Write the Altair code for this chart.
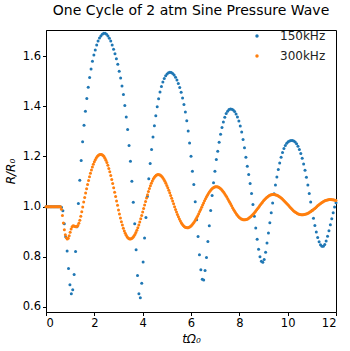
import altair as alt
import pandas as pd

series_names = ["150kHz", "300kHz"]
series_colors = ["#1f77b4", "#ff7f0e"]

x_ticks = [0, 2, 4, 6, 8, 10, 12]
y_ticks = [0.6, 0.8, 1.0, 1.2, 1.4, 1.6]

# time step of each series (uniform sampling in t*Omega0)
blue_dt = 12 / 206
orange_dt = 0.04

# R/R0 for 150 kHz
blue_R = [
    1.000, 1.000, 1.000, 1.000, 1.000, 1.000, 1.000, 1.000, 1.000, 1.000, 1.000, 0.998,
    0.984, 0.932, 0.880, 0.823, 0.753, 0.689, 0.653, 0.669, 0.729, 0.821,
    0.920, 1.012, 1.105, 1.184, 1.259, 1.324, 1.380, 1.431, 1.476, 1.515,
    1.549, 1.579, 1.604, 1.624, 1.644, 1.660, 1.672, 1.680, 1.687, 1.691,
    1.691, 1.687, 1.680, 1.671, 1.660, 1.644, 1.627, 1.609, 1.589, 1.567,
    1.540, 1.513, 1.481, 1.447, 1.403, 1.357, 1.307, 1.244, 1.181, 1.101,
    1.017, 0.932, 0.828, 0.725, 0.653, 0.637, 0.695, 0.779, 0.875, 0.957,
    1.040, 1.111, 1.172,
    1.228, 1.278, 1.322, 1.362, 1.398, 1.430, 1.457, 1.479, 1.497, 1.511,
    1.522, 1.529, 1.534, 1.536, 1.535, 1.531, 1.525, 1.516, 1.505, 1.491,
    1.475, 1.456, 1.433, 1.407, 1.377, 1.342, 1.301, 1.254, 1.201,
    1.141, 1.088, 1.019, 0.948, 0.881, 0.808, 0.748, 0.711, 0.708, 0.745,
    0.797, 0.861, 0.924, 0.985, 1.044, 1.095, 1.141, 1.188, 1.221,
    1.257, 1.288, 1.315, 1.337, 1.356, 1.371, 1.380, 1.387, 1.389, 1.388,
    1.385, 1.379, 1.369, 1.357, 1.341, 1.321, 1.297, 1.268, 1.235, 1.197,
    1.161,
    1.128, 1.092, 1.052, 1.008, 0.962, 0.915, 0.870, 0.830, 0.800, 0.782,
    0.778, 0.789, 0.818, 0.855, 0.895, 0.936, 0.976, 1.014, 1.051, 1.086,
    1.118, 1.148, 1.174, 1.197, 1.216, 1.232, 1.244, 1.253, 1.259, 1.262,
    1.264, 1.264, 1.262, 1.258, 1.251, 1.241, 1.228, 1.212, 1.193, 1.170,
    1.145, 1.117, 1.086, 1.052, 1.018, 0.985, 0.954, 0.925, 0.899, 0.877,
    0.860, 0.848, 0.842, 0.842, 0.849, 0.863, 0.882, 0.904, 0.928, 0.952,
    0.976, 0.999, 1.015,
]

# R/R0 for 300 kHz
orange_R = [
    1.000, 1.000, 1.000, 1.000, 1.000, 1.000, 1.000, 1.000,
    1.000, 1.000, 1.000, 1.000, 1.000, 1.000, 1.000, 1.000,
    0.990, 0.965, 0.935, 0.908, 0.888, 0.876, 0.871, 0.874, 0.884, 0.898,
    0.911, 0.920, 0.924, 0.923, 0.921, 0.920, 0.921, 0.925, 0.934, 0.946,
    0.962, 0.980, 0.999, 1.018, 1.036, 1.054, 1.071, 1.088, 1.104, 1.119,
    1.133, 1.146, 1.158, 1.169, 1.179, 1.187, 1.194, 1.200, 1.204, 1.207,
    1.208, 1.208,
    1.207, 1.204, 1.200, 1.193, 1.185, 1.176, 1.165, 1.152, 1.139, 1.124,
    1.108, 1.092, 1.075, 1.057, 1.040, 1.022, 1.005, 0.987, 0.971, 0.955,
    0.940, 0.927, 0.914, 0.903, 0.894, 0.886, 0.879, 0.875, 0.872, 0.871,
    0.872, 0.874, 0.878, 0.883, 0.889, 0.897, 0.906, 0.916, 0.927, 0.939,
    0.952, 0.965, 0.979, 0.993, 1.006, 1.020, 1.034, 1.047, 1.060, 1.072,
    1.083, 1.093, 1.102, 1.110, 1.116, 1.121, 1.125, 1.127, 1.128,
    1.127, 1.126, 1.123, 1.119, 1.114, 1.108, 1.101, 1.093, 1.084, 1.075,
    1.065, 1.055, 1.044, 1.033, 1.022, 1.011, 1.000, 0.989, 0.979, 0.969,
    0.960, 0.951, 0.943, 0.936, 0.930, 0.925, 0.921, 0.918, 0.917, 0.916,
    0.916, 0.918, 0.920, 0.923, 0.927, 0.932, 0.937, 0.943, 0.950, 0.957,
    0.964, 0.972, 0.981, 0.989, 0.998, 1.006, 1.014, 1.023, 1.031, 1.038,
    1.045, 1.052, 1.058, 1.063, 1.068, 1.072, 1.075, 1.077, 1.079, 1.079,
    1.079, 1.078, 1.076, 1.073, 1.070, 1.066, 1.061, 1.056, 1.050, 1.044,
    1.038, 1.031, 1.024, 1.017, 1.010, 1.003, 0.996, 0.989, 0.983, 0.977,
    0.971, 0.966, 0.961, 0.957, 0.954, 0.951, 0.950, 0.948, 0.948,
    0.948, 0.949, 0.950, 0.952, 0.955, 0.958, 0.961, 0.965, 0.969, 0.973,
    0.978, 0.983, 0.988, 0.993, 0.998, 1.003, 1.008, 1.013, 1.018, 1.023,
    1.027, 1.031, 1.035, 1.038, 1.041, 1.044, 1.046, 1.047, 1.048, 1.048,
    1.048, 1.047, 1.046, 1.045, 1.043, 1.040, 1.038, 1.035, 1.032, 1.028,
    1.024, 1.020, 1.016, 1.012, 1.008, 1.004, 1.000, 0.996, 0.992, 0.988,
    0.984, 0.981, 0.978, 0.976, 0.973, 0.971, 0.970, 0.969, 0.968, 0.968,
    0.968, 0.969, 0.970, 0.971, 0.972, 0.974, 0.976, 0.979, 0.981, 0.984,
    0.987, 0.990, 0.993, 0.996, 1.000, 1.003, 1.006, 1.009, 1.012, 1.015,
    1.017, 1.020, 1.022, 1.024, 1.025, 1.026, 1.027, 1.028, 1.028,
    1.028, 1.027, 1.027, 1.026, 1.025, 1.024,
]

t_blue = [round(i * blue_dt, 4) for i in range(len(blue_R))]
t_orange = [round(i * orange_dt, 4) for i in range(len(orange_R))]

df = pd.concat([
    pd.DataFrame({"t": t_blue, "R": blue_R, "series": series_names[0]}),
    pd.DataFrame({"t": t_orange, "R": orange_R, "series": series_names[1]}),
], ignore_index=True)

FONT = "DejaVu Sans"

chart = (
    alt.Chart(df, title=alt.Title(
        "One Cycle of 2 atm Sine Pressure Wave",
        fontSize=14, font=FONT, fontWeight="normal", color="black",
        anchor="middle", offset=12))
    .mark_circle(size=9, opacity=1)
    .encode(
        x=alt.X("t:Q",
                scale=alt.Scale(domain=[0, 12], nice=False, zero=False),
                axis=alt.Axis(values=x_ticks, format="d", title="tΩ₀",
                              titleFontStyle="italic", titlePadding=4)),
        y=alt.Y("R:Q",
                scale=alt.Scale(domain=[0.58, 1.704], nice=False, zero=False),
                axis=alt.Axis(values=y_ticks, format=".1f", title="R/R₀",
                              titleFontStyle="italic", titlePadding=5)),
        color=alt.Color("series:N",
                        scale=alt.Scale(domain=series_names, range=series_colors),
                        legend=alt.Legend(title=None, orient="none",
                                          legendX=205, legendY=0,
                                          symbolType="circle", symbolSize=12,
                                          labelFontSize=12, labelFont=FONT,
                                          labelColor="#222222",
                                          labelOffset=17, rowPadding=8,
                                          padding=0)),
    )
    .properties(width=290, height=282,
                autosize=alt.AutoSizeParams(type="none"),
                padding={"left": 46, "top": 30, "right": 14, "bottom": 39})
    .configure_view(stroke="black", strokeWidth=1)
    .configure_axis(labelFont=FONT, labelFontSize=11.5, labelColor="black",
                    titleFont=FONT, titleFontSize=12, titleFontWeight="normal",
                    titleColor="black", domainColor="black", tickColor="black",
                    tickSize=3.5, grid=False, labelPadding=2)
)

chart.save("out.html", embed_options={"renderer": "svg", "actions": False})
